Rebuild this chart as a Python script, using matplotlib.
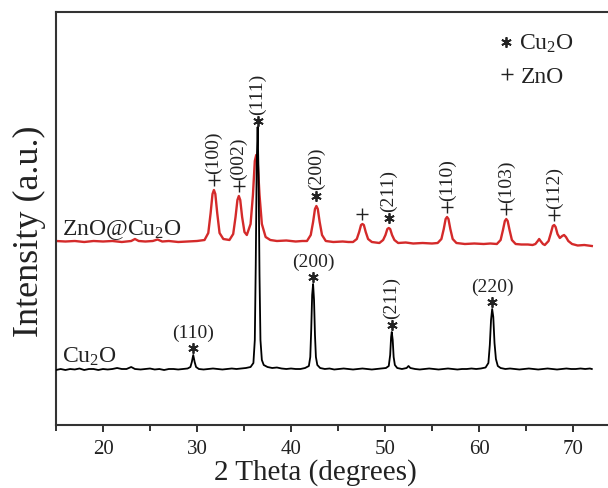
import matplotlib
matplotlib.use("Agg")
import matplotlib.pyplot as plt

plt.rcParams['font.family'] = ['Liberation Serif', 'DejaVu Serif']
plt.rcParams['mathtext.fontset'] = 'custom'
plt.rcParams['mathtext.rm'] = 'Liberation Serif'
plt.rcParams['mathtext.default'] = 'regular'

# Cu2O pattern (2 theta, intensity in a.u.)
cu2o_x = [15.0, 15.5, 16.0, 16.5, 17.0, 17.5, 18.0, 18.5, 19.0, 19.5, 20.0, 20.5, 21.0, 21.5, 22.0, 22.5,
          23.0, 23.4, 24.0, 24.5, 25.0, 25.5, 26.0, 26.5, 27.0, 27.5, 28.0, 28.5, 29.0, 29.3, 29.45, 29.6,
          29.75, 29.9, 30.2, 30.7, 31.2, 31.7, 32.2, 32.7, 33.2, 33.7, 34.2, 34.7, 35.2, 35.7, 36.0, 36.15,
          36.25, 36.35, 36.45, 36.55, 36.65, 36.75, 36.9, 37.1, 37.5, 38.0, 38.5, 39.0, 39.5, 40.0, 40.5,
          41.0, 41.5, 41.9, 42.05, 42.15, 42.25, 42.35, 42.45, 42.55, 42.65, 42.8, 43.1, 43.6, 44.1, 44.6,
          45.1, 45.6, 46.1, 46.6, 47.1, 47.6, 48.1, 48.6, 49.1, 49.6, 50.1, 50.4, 50.55, 50.65, 50.72, 50.82,
          50.92, 51.05, 51.3, 51.8, 52.3, 52.5, 52.7, 53.2, 53.7, 54.2, 54.7, 55.2, 55.7, 56.2, 56.7, 57.2,
          57.7, 58.2, 58.7, 59.2, 59.7, 60.2, 60.7, 61.0, 61.15, 61.28, 61.4, 61.52, 61.65, 61.8, 62.0, 62.3,
          62.8, 63.3, 63.8, 64.3, 64.8, 65.3, 65.8, 66.3, 66.8, 67.3, 67.8, 68.3, 68.8, 69.3, 69.8, 70.3,
          70.8, 71.3, 71.8, 72.0]
cu2o_y = [55, 56, 55, 56, 55.5, 56.5, 55, 56, 56, 55, 56, 55.5, 56, 57, 56, 56,
          58, 56, 55.5, 56, 56.5, 55.5, 56, 55, 56, 56, 55.5, 56, 56.5, 58, 63, 70,
          63, 58, 56, 55.5, 56, 56.5, 56, 55.5, 56, 56.5, 56, 56.5, 57, 58, 62, 85,
          160, 260, 298, 250, 150, 85, 65, 60, 58, 57, 57.5, 56.5, 56, 56.5, 56,
          56, 57, 59, 68, 95, 130, 141, 125, 90, 68, 60, 57, 56, 56.5, 55.5,
          56, 56.5, 56, 55.5, 56, 56.5, 56, 55.5, 56, 56.5, 57, 59, 70, 88, 93, 85,
          68, 60, 57, 56, 57, 59, 57, 56, 55.5, 56, 56.5, 56, 55.5, 56, 56.5, 56,
          55.5, 56, 56, 56.5, 56, 56.5, 57.5, 62, 80, 105, 116, 108, 82, 66, 59, 57,
          56, 56.5, 56, 55.5, 56, 56.5, 56, 55.5, 56, 56.5, 56, 55.5, 56, 56.5, 56, 56,
          56.5, 56, 56.5, 56]

# ZnO@Cu2O pattern
zno_x = [15.0, 16.0, 17.0, 18.0, 19.0, 20.0, 21.0, 22.0, 23.0, 23.4, 23.8, 24.5, 25.3, 25.8, 26.3, 27.0,
         28.0, 29.0, 30.0, 30.8, 31.2, 31.45, 31.65, 31.8, 31.95, 32.15, 32.4, 32.8, 33.45, 33.85, 34.1,
         34.3, 34.45, 34.6, 34.8, 35.05, 35.3, 35.7, 35.95, 36.15, 36.3, 36.45, 36.65, 36.9, 37.3, 37.8,
         38.5, 39.5, 40.5, 41.2, 41.7, 42.1, 42.35, 42.55, 42.7, 42.85, 43.05, 43.3, 43.7, 44.5, 45.5,
         46.1, 46.6, 47.0, 47.25, 47.45, 47.6, 47.75, 47.95, 48.2, 48.6, 49.0, 49.4, 49.8, 50.05, 50.25,
         50.4, 50.55, 50.75, 51.0, 51.4, 52.2, 53.0, 54.0, 55.0, 55.6, 56.0, 56.25, 56.45, 56.6, 56.75,
         56.95, 57.2, 57.6, 58.5, 59.5, 60.5, 61.2, 61.9, 62.3, 62.55, 62.75, 62.9, 63.05, 63.25, 63.5,
         63.9, 64.5, 65.2, 65.7, 66.0, 66.25, 66.4, 66.55, 66.8, 67.0, 67.4, 67.65, 67.85, 68.0, 68.15,
         68.35, 68.6, 68.85, 69.05, 69.25, 69.5, 69.9, 70.5, 71.2, 72.0]
zno_y = [184, 183.5, 184, 183, 184, 183.5, 184, 183, 184, 186, 184, 183.5, 184, 185.5, 183.5, 184,
         183, 183.5, 184, 185, 192, 212, 231, 235, 231, 212, 192, 186, 185, 191, 208,
         225, 229, 225, 208, 193, 190, 201, 230, 264, 270, 264, 230, 201, 188, 185,
         184, 184.5, 183.5, 184, 184, 190, 203, 216, 219, 216, 203, 190, 184, 183, 183.5,
         183, 183, 186, 193, 200, 201, 200, 193, 186, 183, 182.5, 182, 185, 190, 196,
         197, 196, 190, 185, 182, 182.5, 181.5, 182, 181.5, 182, 186, 196, 206, 208, 206,
         196, 186, 182, 181, 181.5, 181, 181.5, 181, 185, 195, 204, 206, 204, 195, 185,
         181, 180.5, 180.5, 180, 181, 184, 186, 184, 181, 180, 184, 192, 199, 200, 198,
         191, 187, 189, 190, 188, 184, 181, 179.5, 180, 179]

# peak labels (position, peak intensity, phase, hkl)
top_x = [31.8, 34.45, 36.45, 42.7, 47.6, 50.4, 56.6, 62.9, 68.0]
top_I = [235, 229, 298, 219, 201, 197, 208, 206, 200]
top_phase = ['ZnO', 'ZnO', 'Cu2O', 'Cu2O', 'ZnO', 'Cu2O', 'ZnO', 'ZnO', 'ZnO']
top_hkl = ['(100)', '(002)', '(111)', '(200)', '', '(211)', '(110)', '(103)', '(112)']

bot_x = [29.6, 42.35, 50.72, 61.4]
bot_I = [70, 141, 93, 116]
bot_hkl = ['(110)', '(200)', '(211)', '(220)']
bot_rot = [0, 0, 90, 0]

red = '#d42a2a'
ink = '#222222'
star = (6, 2, 0)

fig = plt.figure(figsize=(6.08, 4.89), dpi=100)
ax = fig.add_axes([56/608, 1-426/489, 564/608, 413/489])

ax.plot(zno_x, zno_y, color=red, lw=1.7, zorder=2)
ax.plot(cu2o_x, cu2o_y, color='black', lw=1.3, zorder=3)

for x, I, ph, hkl in zip(top_x, top_I, top_phase, top_hkl):
    if ph == 'ZnO':
        ax.plot(x, I + 10, marker='+', ms=9, mew=1.0, color=ink, zorder=4)
        ty = I + 17
    else:
        off = 6 if x < 40 else 10
        ax.plot(x, I + off, marker=star, ms=7.5, mew=1.3, color=ink, zorder=4)
        ty = I + off + 7
    if hkl:
        ax.text(x, ty, hkl, rotation=90, ha='center', va='bottom', fontsize=14, color=ink)

for x, I, hkl, rot in zip(bot_x, bot_I, bot_hkl, bot_rot):
    ax.plot(x, I + 7, marker=star, ms=7.5, mew=1.3, color=ink, zorder=4)
    ax.text(x, I + 14, hkl, rotation=rot, ha='center', va='bottom', fontsize=14, color=ink)

ax.text(15.6, 191, 'ZnO@Cu$_2$O', fontsize=17, color=ink, va='baseline')
ax.text(15.6, 63, 'Cu$_2$O', fontsize=17, color=ink, va='baseline')

# legend
ax.plot(62.9, 383, marker=star, ms=7.5, mew=1.3, color=ink)
ax.text(64.3, 376, 'Cu$_2$O', fontsize=17, color=ink, va='baseline')
ax.plot(63.0, 351, marker='+', ms=9, mew=1.0, color=ink)
ax.text(64.5, 343, 'ZnO', fontsize=17, color=ink, va='baseline')

ax.set_xlim(15, 75)
ax.set_ylim(0, 413)
ax.set_yticks([])
ax.set_xticks([20, 30, 40, 50, 60, 70])
ax.set_xticks([15, 25, 35, 45, 55, 65], minor=True)
ax.tick_params(axis='x', which='major', direction='out', length=5, width=1.3, labelsize=15, pad=5, colors=ink)
ax.tick_params(axis='x', which='minor', direction='out', length=4, width=1.3, colors=ink)
for s in ['left', 'top', 'bottom']:
    ax.spines[s].set_linewidth(1.5)
    ax.spines[s].set_color('#333333')
ax.spines['right'].set_visible(False)

fig.text(315/608, 1-480/489, '2 Theta (degrees)', fontsize=21, ha='center', va='baseline', color=ink)
fig.text(29/608, 1-231/489, 'Intensity (a.u.)', fontsize=26, rotation=90, ha='center', va='center', color=ink)

fig.savefig('out.png', dpi=100)
